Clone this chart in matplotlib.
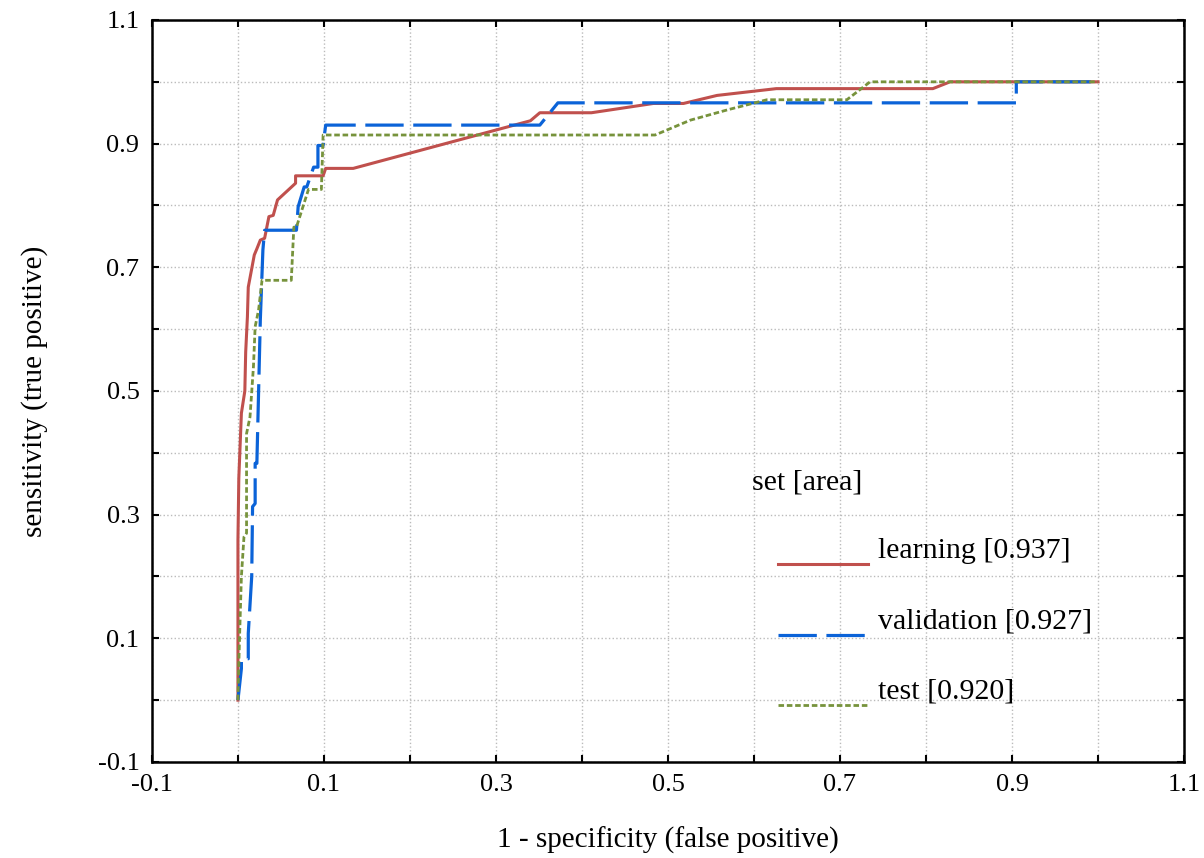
import matplotlib
matplotlib.use("Agg")
import matplotlib.pyplot as plt
from matplotlib.ticker import MultipleLocator, FuncFormatter
from matplotlib.legend_handler import HandlerLine2D

# ROC curves
learning_fpr = [0, 0, 0.001, 0.004, 0.008, 0.009, 0.011, 0.012, 0.019, 0.022, 0.026, 0.031,
                0.036, 0.041, 0.046, 0.067, 0.067, 0.099, 0.102, 0.134, 0.340, 0.351,
                0.411, 0.483, 0.518, 0.557, 0.626, 0.808, 0.828, 1.0]
learning_tpr = [0, 0.259, 0.359, 0.464, 0.500, 0.563, 0.620, 0.668, 0.720, 0.730, 0.744, 0.747,
                0.782, 0.784, 0.809, 0.836, 0.848, 0.848, 0.860, 0.860, 0.937, 0.950,
                0.950, 0.965, 0.965, 0.978, 0.989, 0.989, 1.0, 1.0]

valid_fpr = [0, 0.004, 0.004, 0.012, 0.012, 0.016, 0.017, 0.020, 0.020, 0.022, 0.026, 0.029,
             0.031, 0.068, 0.070, 0.077, 0.080, 0.088, 0.093, 0.093, 0.099, 0.102, 0.351,
             0.372, 0.905, 0.905, 1.0]
valid_tpr = [0, 0.051, 0.067, 0.067, 0.108, 0.200, 0.313, 0.318, 0.383, 0.383, 0.615, 0.728,
             0.760, 0.760, 0.798, 0.830, 0.830, 0.862, 0.862, 0.897, 0.897, 0.930, 0.930,
             0.966, 0.966, 1.0, 1.0]

test_fpr = [0, 0.0004, 0.002, 0.004, 0.007, 0.010, 0.010, 0.014, 0.018, 0.020, 0.024, 0.028,
            0.062, 0.065, 0.068, 0.082, 0.097, 0.099, 0.485, 0.526, 0.570, 0.615, 0.708,
            0.735, 1.0]
test_tpr = [0, 0.027, 0.108, 0.200, 0.264, 0.270, 0.431, 0.458, 0.539, 0.604, 0.631, 0.679,
            0.679, 0.765, 0.765, 0.826, 0.826, 0.914, 0.914, 0.938, 0.955, 0.971, 0.971,
            1.0, 1.0]

labels = ["learning [0.937]", "validation [0.927]", "test [0.920]"]


class LowLine(HandlerLine2D):
    # legend key drawn a bit below the text, like the original
    def create_artists(self, *args, **kwargs):
        arts = super().create_artists(*args, **kwargs)
        for a in arts:
            a.set_ydata([y - 12 for y in a.get_ydata()])
        return arts


plt.rcParams['font.family'] = ['Liberation Serif', 'DejaVu Serif']

fig = plt.figure(figsize=(12.04, 8.58), dpi=100)
ax = fig.add_axes([0.1262, 0.1119, 0.8572, 0.8648])

ax.plot(learning_fpr, learning_tpr, color='#C0504D', lw=2.2, label=labels[0])
ax.plot(valid_fpr, valid_tpr, color='#0B63D8', lw=2.3, dashes=(12, 3), label=labels[1])
ax.plot(test_fpr, test_tpr, color='#77933C', lw=2.0, dashes=(2, 1), label=labels[2])

ax.set_xlim(-0.1, 1.1)
ax.set_ylim(-0.1, 1.1)
ax.xaxis.set_major_locator(MultipleLocator(0.1))
ax.yaxis.set_major_locator(MultipleLocator(0.1))


def odd_label(v, pos):
    k = int(round(v * 10))
    if k % 2 == 0:
        return ""
    return "%.1f" % (k / 10)


ax.xaxis.set_major_formatter(FuncFormatter(odd_label))
ax.yaxis.set_major_formatter(FuncFormatter(odd_label))
ax.tick_params(direction='in', length=5, width=1.5, top=True, right=True,
               labelsize=19, pad=9)
ax.grid(True, color='#BBBBBB', ls=':', lw=1.0)
for s in ax.spines.values():
    s.set_linewidth(1.8)

ax.set_xlabel("1 - specificity (false positive)", fontsize=21, labelpad=22)
ax.set_ylabel("sensitivity (true positive)", fontsize=21, labelpad=36)

ax.text(0.581, 0.376, "set [area]", transform=ax.transAxes, fontsize=21.5,
        va='center', ha='left')
leg = ax.legend(loc='center left', bbox_to_anchor=(0.607, 0.19),
                frameon=False, fontsize=21.5, handlelength=3.0,
                handletextpad=0.35, labelspacing=1.45, borderpad=0,
                borderaxespad=0, handler_map={plt.Line2D: LowLine()})

fig.savefig("out.png", dpi=100)
